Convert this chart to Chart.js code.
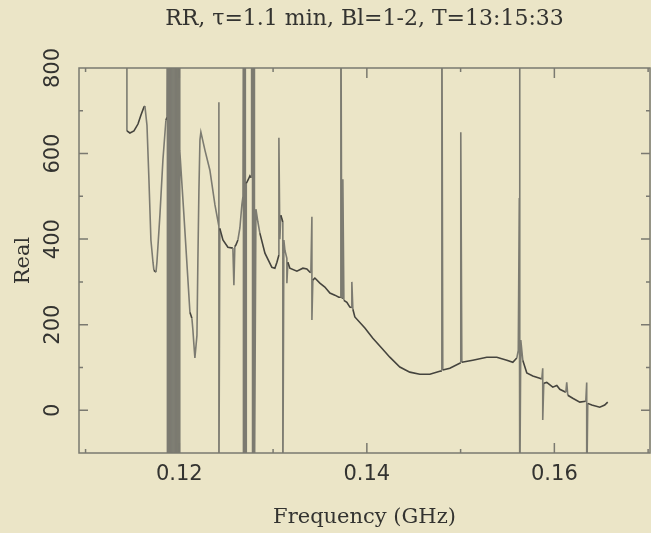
<!DOCTYPE html>
<html lang="en">
<head>
<meta charset="UTF-8">
<title>RR spectrum</title>
<style>
  body { margin: 0; background: #ebe5c7; }
  #chartContainer { width: 651px; height: 533px; }
</style>
<script src="https://cdn.jsdelivr.net/npm/chart.js"></script>
</head>
<body>
<div id="chartContainer"><canvas id="spectrumChart"></canvas></div>
<script>
// Spectrum samples: frequency (GHz) and real part. Spikes are repeated
// frequencies; values beyond the axis range run off the frame.
const freqGHz = [
  0.11441, 0.11441, 0.11473, 0.11516, 0.11559, 0.11591, 0.11623, 0.11633, 0.11655, 0.11676, 0.11697, 0.11719, 0.11729, 0.11751, 0.11761, 0.11793, 0.11825, 0.11857, 0.11868,
  0.11873, 0.11873, 0.11883, 0.11883, 0.11893, 0.11893, 0.11903, 0.11903, 0.11913, 0.11913, 0.11923, 0.11923, 0.11933, 0.11933,
  0.11943, 0.11943, 0.11953, 0.11953, 0.11963, 0.11963, 0.11973, 0.11973, 0.11983, 0.11983, 0.11993, 0.11993, 0.12003, 0.12003,
  0.12006, 0.12049, 0.12092, 0.12113, 0.12134, 0.12145, 0.12156, 0.12166, 0.12188, 0.12198, 0.12209, 0.12220, 0.12230, 0.12273, 0.12326, 0.12380,
  0.12422, 0.12422, 0.12422, 0.12432, 0.12465, 0.12518, 0.12571, 0.12582, 0.12592, 0.12603, 0.12625, 0.12646, 0.12667,
  0.12679, 0.12684, 0.12684, 0.12694, 0.12694, 0.12704, 0.12704, 0.12714, 0.12714, 0.12737, 0.12753, 0.12763,
  0.12771, 0.12771, 0.12781, 0.12781, 0.12791, 0.12791, 0.12801, 0.12801, 0.12817, 0.12838,
  0.12859, 0.12913, 0.12987, 0.13019, 0.13041, 0.13062, 0.13062, 0.13072, 0.13083, 0.13104, 0.13104, 0.13115, 0.13126, 0.13147, 0.13147, 0.13158, 0.13179,
  0.13254, 0.13318, 0.13360, 0.13392, 0.13403, 0.13414, 0.13414, 0.13424, 0.13446, 0.13499, 0.13552, 0.13606, 0.13659, 0.13701,
  0.13723, 0.13723, 0.13733, 0.13744, 0.13744, 0.13755, 0.13787, 0.13819, 0.13840, 0.13840, 0.13851, 0.13872,
  0.13979, 0.14064, 0.14160, 0.14245, 0.14352, 0.14458, 0.14565, 0.14672, 0.14778, 0.14800, 0.14800, 0.14810, 0.14885, 0.14991, 0.15002, 0.15002, 0.15013,
  0.15130, 0.15279, 0.15386, 0.15493, 0.15557, 0.15599, 0.15615, 0.15626, 0.15631, 0.15631, 0.15642, 0.15663, 0.15706, 0.15770, 0.15844,
  0.15866, 0.15876, 0.15876, 0.15887, 0.15919, 0.15983, 0.16026, 0.16058, 0.16122, 0.16132, 0.16143, 0.16196, 0.16271, 0.16335, 0.16345, 0.16345, 0.16356, 0.16399, 0.16484, 0.16537, 0.16569
];
const realPart = [
  1000, 653, 648, 653, 669, 690, 709, 711, 666, 538, 398, 346, 327, 323, 346, 456, 585, 678, 685,
  1000, -200, -200, 1000, 1000, -200, -200, 1000, 1000, -200, -200, 1000, 1000, -200,
  -200, 1000, 1000, -200, -200, 1000, 1000, -200, -200, 1000, 1000, -200, -200, 1000,
  608, 456, 304, 229, 215, 187, 152, 122, 175, 351, 515, 632, 650, 608, 561, 480,
  430, 720, -200, 425, 398, 381, 379, 292, 383, 386, 398, 426, 480,
  500, 1000, -200, -200, 1000, 1000, -200, -200, 530, 540, 548, 545,
  545, 1000, 1000, -200, -200, 1000, 1000, -200, 470, 440,
  414, 367, 334, 332, 346, 363, 637, 400, 456, 440, -200, 398, 374, 355, 297, 346, 332,
  325, 332, 330, 323, 322, 452, 211, 304, 309, 297, 288, 274, 269, 264,
  264, 1000, 262, 262, 540, 257, 252, 241, 240, 300, 236, 218,
  192, 168, 145, 124, 101, 89, 84, 84, 91, 92, 1000, 94, 98, 110, 111, 650, 112,
  117, 124, 124, 117, 112, 122, 140, 496, 1000, -200, 164, 117, 87, 80, 75,
  73, 98, -23, 63, 65, 54, 58, 49, 42, 65, 35, 28, 19, 21, 65, -200, 16, 12, 7, 12, 19
];

const xRange = [0.1093, 0.1702];
const yRange = [-100, 800];
const xStep = 0.02;
const yStep = 200;

const titleText = 'RR, \u03c4=1.1 min, Bl=1-2, T=13:15:33';
const xTitle = 'Frequency (GHz)';
const yTitle = 'Real';

const curveColor = '#45443e';
const spikeColor = '#7c7b71';
const frameColor = '#7a7970';
Chart.defaults.color = '#333330';

const serif = { family: 'DejaVu Serif', size: 21 };
const sans = { family: 'DejaVu Sans', size: 21 };

// near-vertical pieces (spikes, steep flanks) are drawn lighter than the baseline
function isSteep(ctx) {
  const dx = Math.abs(ctx.p1.x - ctx.p0.x);
  const dy = Math.abs(ctx.p1.y - ctx.p0.y);
  return dy > 4 * dx;
}

// plot frame with inward major/minor ticks on all four sides
const frameTicks = {
  id: 'frameTicks',
  afterDatasetsDraw(chart) {
    const { ctx, chartArea: a, scales: { x, y } } = chart;
    ctx.save();
    ctx.strokeStyle = frameColor;
    ctx.lineWidth = 1.5;
    ctx.strokeRect(a.left, a.top, a.right - a.left, a.bottom - a.top);
    ctx.beginPath();
    x.ticks.forEach(t => {
      [[t.value, 10], [t.value - xStep / 2, 4], [t.value + xStep / 2, 4]].forEach(([v, len]) => {
        if (v <= x.min || v >= x.max) return;
        const px = x.getPixelForValue(v);
        ctx.moveTo(px, a.bottom); ctx.lineTo(px, a.bottom - len);
        ctx.moveTo(px, a.top); ctx.lineTo(px, a.top + len);
      });
    });
    y.ticks.forEach(t => {
      [[t.value, 9], [t.value - yStep / 2, 4], [t.value + yStep / 2, 4]].forEach(([v, len]) => {
        if (v <= y.min || v >= y.max) return;
        const py = y.getPixelForValue(v);
        ctx.moveTo(a.left, py); ctx.lineTo(a.left + len, py);
        ctx.moveTo(a.right, py); ctx.lineTo(a.right - len, py);
      });
    });
    ctx.stroke();
    ctx.restore();
  }
};

new Chart(document.getElementById('spectrumChart'), {
  type: 'line',
  data: {
    datasets: [{
      data: freqGHz.map((f, i) => ({ x: f, y: realPart[i] })),
      borderColor: curveColor,
      borderWidth: 1.6,
      pointRadius: 0,
      tension: 0,
      segment: {
        borderColor: ctx => isSteep(ctx) ? spikeColor : curveColor
      }
    }]
  },
  options: {
    responsive: true,
    maintainAspectRatio: false,
    animation: false,
    events: [],
    layout: { padding: { left: 0, right: 1, top: 0, bottom: 0 } },
    plugins: {
      legend: { display: false },
      tooltip: { enabled: false },
      title: {
        display: true,
        text: titleText,
        fullSize: false,
        font: { family: 'DejaVu Serif', size: 22, weight: 'normal' },
        padding: { top: 6, bottom: 35.6 }
      }
    },
    scales: {
      x: {
        type: 'linear',
        min: xRange[0],
        max: xRange[1],
        grid: { display: false, drawTicks: false },
        border: { display: false },
        ticks: { stepSize: xStep, includeBounds: false, maxRotation: 0, padding: 9, font: sans },
        title: { display: true, text: xTitle, font: serif, padding: { top: 0, bottom: 3 } },
        afterFit: s => { s.height = 80; }
      },
      y: {
        min: yRange[0],
        max: yRange[1],
        grid: { display: false, drawTicks: false },
        border: { display: false },
        ticks: { stepSize: yStep, includeBounds: false, minRotation: 90, maxRotation: 90, crossAlign: 'center', padding: 5, font: sans },
        title: { display: true, text: yTitle, font: serif, padding: { top: 11, bottom: 0 } },
        afterFit: s => { s.width = 79; }
      }
    }
  },
  plugins: [frameTicks]
});
</script>
</body>
</html>
